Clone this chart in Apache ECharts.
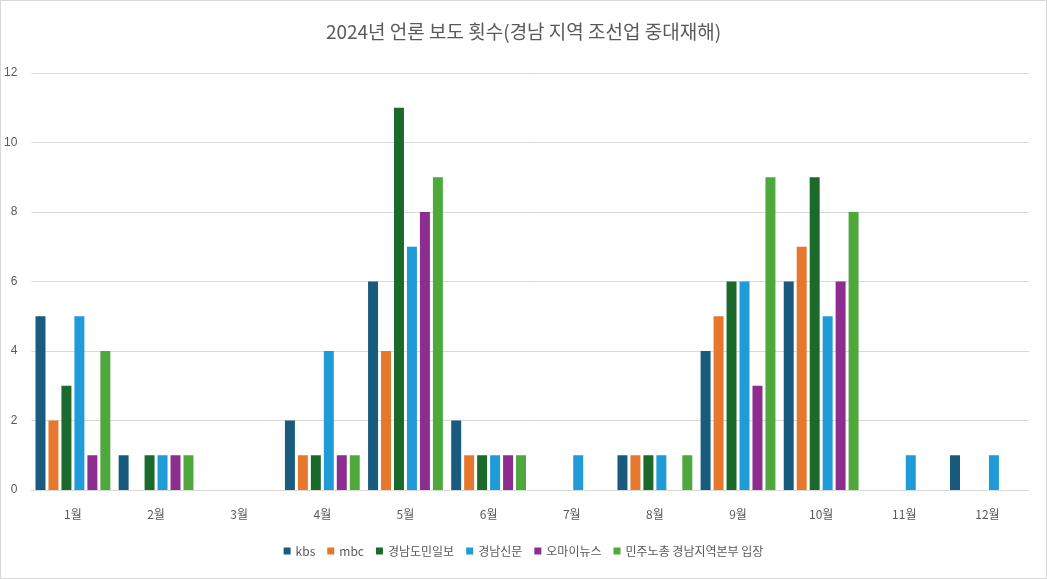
<!DOCTYPE html>
<html><head><meta charset="utf-8">
<script src="https://cdn.jsdelivr.net/npm/echarts@6/dist/echarts.min.js"></script>
<style>html,body{margin:0;padding:0;background:#fff}#c{width:1047px;height:579px;box-sizing:border-box;border:1px solid #d9d9d9}</style>
</head><body><div id="c"></div>
<script>
const categories=['1월','2월','3월','4월','5월','6월','7월','8월','9월','10월','11월','12월'];
const seriesNames=['kbs','mbc','경남도민일보','경남신문','오마이뉴스','민주노총 경남지역본부 입장'];
const kbs=[5,1,0,2,6,2,0,1,4,6,0,1];
const mbc=[2,0,0,1,4,1,0,1,5,7,0,0];
const dominilbo=[3,1,0,1,11,1,0,1,6,9,0,0];
const sinmun=[5,1,0,4,7,1,1,1,6,5,1,1];
const ohmynews=[1,1,0,1,8,1,0,0,3,6,0,0];
const minju=[4,1,0,1,9,1,0,1,9,8,0,0];
const values=[kbs,mbc,dominilbo,sinmun,ohmynews,minju];
const colors=['#185b7d','#e8772e','#1b6a2b','#1f9bd7','#8c2d8f','#4ea83c'];
const chart=echarts.init(document.getElementById('c'));
chart.setOption({
  title:{text:'2024년 언론 보도 횟수(경남 지역 조선업 중대재해)',left:'center',top:16,textStyle:{fontFamily:'Noto Sans CJK KR',fontSize:19,fontWeight:'normal',color:'#595959'}},
  legend:{bottom:16,itemWidth:7,itemHeight:7,itemGap:12,icon:'rect',textStyle:{fontFamily:'Noto Sans CJK KR',fontSize:12,color:'#595959'}},
  grid:{left:30,right:17,top:72,bottom:88,containLabel:false},
  xAxis:{type:'category',data:categories,axisTick:{show:false},axisLine:{lineStyle:{color:'#d9d9d9'}},axisLabel:{color:'#595959',fontSize:12,margin:18,fontFamily:'Noto Sans CJK KR'}},
  yAxis:{type:'value',min:0,max:12,interval:2,axisLabel:{color:'#595959',fontSize:12,margin:14},splitLine:{lineStyle:{color:'#d9d9d9'}}},
  series:seriesNames.map((n,i)=>({name:n,type:'bar',data:values[i],itemStyle:{color:colors[i]},barGap:'30%',barCategoryGap:'10%'}))
});
</script></body></html>
